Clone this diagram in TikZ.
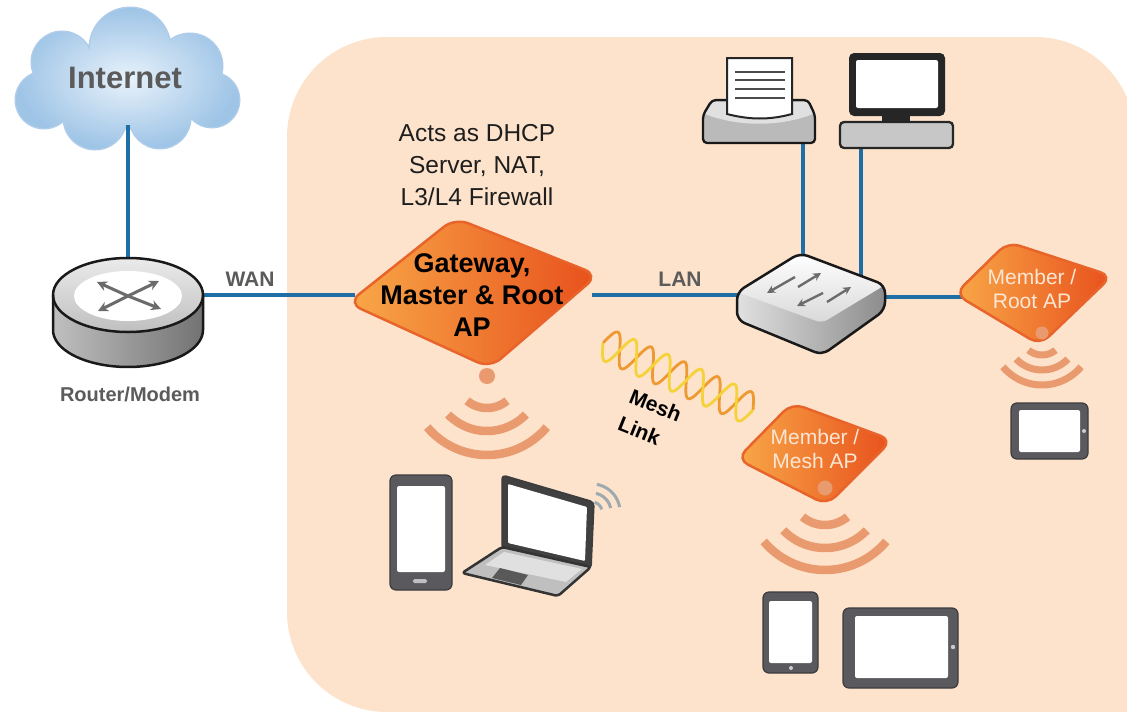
\documentclass[tikz,border=0pt]{standalone}
\usepackage{fontspec}
\setmainfont{Liberation Sans}
\usetikzlibrary{arrows.meta}

\definecolor{peach}{HTML}{FDE3CB}
\definecolor{wire}{HTML}{1D6FA5}
\definecolor{labelgrey}{HTML}{5B5B5B}
\definecolor{textdark}{HTML}{1E1E1E}
\definecolor{aplight}{HTML}{F8A848}
\definecolor{apdark}{HTML}{E8501C}
\definecolor{apedge}{HTML}{E8642A}
\definecolor{aptext}{HTML}{FCE6D4}
\definecolor{wave}{HTML}{E99A6E}
\definecolor{devdark}{HTML}{5A5A5E}
\definecolor{devedge}{HTML}{3C3C3F}
\definecolor{cloudin}{HTML}{E8F2FB}
\definecolor{cloudout}{HTML}{9EC4E6}
\definecolor{cloudrim}{HTML}{AFCDEA}
\definecolor{helixA}{HTML}{F6D23A}
\definecolor{helixB}{HTML}{EE9A33}
\definecolor{signalgrey}{HTML}{9EA9B0}

\newcommand\fsz[2]{\fontsize{#1pt}{#2pt}\selectfont}
% one radio arc below an access point: centre x, centre y, radius, half-angle
\newcommand\radioarc[4]{\draw[waves] plot[domain={270-#4}:{270+#4}, samples=30] ({#1+#3*cos(\x)},{#2-#3*sin(\x)});}

\begin{document}
\begin{tikzpicture}[x=1pt,y=-1pt,
  wire/.style={draw=wire, line width=3.2pt},
  apbody/.style={left color=aplight, right color=apdark, draw=apedge, line width=2.5pt, rounded corners=14pt},
  waves/.style={draw=wave, line width=8.5pt},
  devframe/.style={fill=devdark, draw=devedge, line width=1.2pt, rounded corners=6pt},
  screen/.style={fill=white, rounded corners=2pt},
  greylabel/.style={text=labelgrey, font=\bfseries\fsz{21}{24}},
  aplabel/.style={text=aptext, font=\fsz{21}{24}, align=center},
  outline/.style={draw=black!90, line width=2.5pt, line join=round},
]
\useasboundingbox (0,0) rectangle (1127,712);
\fill[white] (0,0) rectangle (1127,712);

% site area
\fill[peach, rounded corners=100pt] (287,37) rectangle (1135,712);
\fill[peach] (1000,600) rectangle (1127,712);

% ---------- Internet cloud ----------
\path[draw=cloudrim, line width=3pt]
  (62,62) circle[radius=30] (130,48) circle[radius=40] (190,66) circle[radius=32]
  (212,100) circle[radius=27] (44,100) circle[radius=28] (95,118) circle[radius=31]
  (160,118) circle[radius=30];
\shade[inner color=cloudin, outer color=cloudout]
  (62,62) circle[radius=30] (130,48) circle[radius=40] (190,66) circle[radius=32]
  (212,100) circle[radius=27] (44,100) circle[radius=28] (95,118) circle[radius=31]
  (160,118) circle[radius=30] (128,92) ellipse[x radius=85, y radius=38];
\node[font=\bfseries\fsz{31}{36}, text=labelgrey] (inet) at (125,78) {Internet};

% ---------- connection points ----------
\coordinate (inetport) at (128,125);
\coordinate (routertop) at (128,285);
\coordinate (routerright) at (195,295);
\coordinate (gwleft) at (355,295);
\coordinate (gwright) at (592,295);
\coordinate (swleft) at (745,295);
\coordinate (swright) at (878,297);
\coordinate (rootleft) at (962,297);
\coordinate (prnport) at (803,138);
\coordinate (swtopA) at (803,265);
\coordinate (pcport) at (861,144);
\coordinate (swtopB) at (861,285);

% ---------- cables ----------
\draw[wire] (inetport) -- (routertop);
\draw[wire] (routerright) -- (gwleft);
\draw[wire] (gwright) -- (swleft);
\draw[wire] (swright) -- (rootleft);
\draw[wire] (prnport) -- (swtopA);
\draw[wire] (pcport) -- (swtopB);

% ---------- router / modem ----------
\shade[left color=black!25, right color=black!55]
  (53,295) -- plot[domain=180:360, samples=40] ({128+75*cos(\x)},{330-37*sin(\x)}) -- (203,295) -- cycle;
\shade[top color=black!8, bottom color=black!25] (128,295) ellipse[x radius=75, y radius=37];
\fill[white] (128,296) ellipse[x radius=54, y radius=25];
\draw[outline] (53,295) -- (53,330)
  plot[domain=180:360, samples=40] ({128+75*cos(\x)},{330-37*sin(\x)}) -- (203,295);
\draw[outline] (128,295) ellipse[x radius=75, y radius=37];
\begin{scope}[black!58, line width=3pt, -{Stealth[length=10pt,width=10pt]}]
  \draw (128,296) -- (97,282);
  \draw (128,296) -- (159,281);
  \draw (128,296) -- (98,311);
  \draw (128,296) -- (161,309);
\end{scope}
\node[greylabel, font=\bfseries\fsz{20}{24}] (routerlabel) at (130,394) {Router/Modem};
\node[greylabel] (wanlabel) at (250,279) {WAN};
\node[greylabel] (lanlabel) at (680,279) {LAN};

% ---------- switch ----------
\shade[left color=black!12, right color=black!45, rounded corners=8pt]
  (737,292) -- (800,253) -- (885,285) -- (885,310) -- (822,355) -- (737,320) -- cycle;
\shade[top color=white, bottom color=black!15, rounded corners=6pt]
  (737,292) -- (800,253) -- (885,285) -- (822,323) -- cycle;
\draw[outline, rounded corners=8pt]
  (737,292) -- (800,253) -- (885,285) -- (885,310) -- (822,355) -- (737,320) -- cycle;
\begin{scope}[black!58, line width=2.4pt, -{Stealth[length=8pt,width=8pt]}]
  \draw (795,277) -- (767,293);
  \draw (798,287) -- (821,273);
  \draw (823,293) -- (797,306);
  \draw (827,302) -- (851,287);
\end{scope}

% ---------- printer ----------
\fill[black!27, rounded corners=4pt] (703,143) -- (703,115) -- (712,100) -- (808,100) -- (815,115) -- (815,143) -- cycle;
\fill[black!12] (705,114) -- (713,102) -- (807,102) -- (813,114) .. controls (780,127) and (738,127) .. (705,114) -- cycle;
\draw[outline, line width=2.3pt, rounded corners=4pt] (703,143) -- (703,115) -- (712,100) -- (808,100) -- (815,115) -- (815,143) -- cycle;
\filldraw[fill=white, draw=black!85, line width=2pt] (727,58) -- (792,58) -- (792,114) .. controls (770,120) and (750,120) .. (727,114) -- cycle;
\begin{scope}[black!70, line width=2pt]
  \draw (735,72) -- (785,72);
  \draw (735,80) -- (785,80);
  \draw (735,89) -- (785,89);
  \draw (735,98) -- (785,98);
\end{scope}

% ---------- desktop computer ----------
\fill[black!85] (882,112) rectangle (910,125);
\filldraw[fill=black!22, draw=black!85, line width=2.3pt, rounded corners=4pt] (840,122) rectangle (953,148);
\fill[black!85, rounded corners=5pt] (849,53) rectangle (945,116);
\fill[white, rounded corners=2pt] (856,60) rectangle (938,108);

% ---------- mesh link ----------
\draw[helixB, line width=2.8pt] plot[domain=0:1, samples=260]
  ({603+150*\x-0.408*16*sin(\x*360*4.5+180)},{343+67*\x+0.913*16*sin(\x*360*4.5+180)});
\draw[helixA, line width=2.8pt] plot[domain=0:1, samples=260]
  ({603+150*\x-0.408*16*sin(\x*360*4.5)},{343+67*\x+0.913*16*sin(\x*360*4.5)});
\node[rotate=-22, align=left, text=black, font=\bfseries\fsz{21}{30}] (meshlabel) at (650,419) {Mesh\\Link};

% ---------- gateway / master / root AP ----------
\node[font=\fsz{24.5}{32}, align=center, text=textdark] (gwnote) at (477,165) {Acts as DHCP\\Server, NAT,\\L3/L4 Firewall};
\shadedraw[apbody] (348,303) -- (455,218) -- (598,275) -- (490,368) -- cycle;
\node[font=\bfseries\fsz{27}{32}, align=center, text=black] (gw) at (472,295) {Gateway,\\Master \& Root\\AP};
\fill[wave] (487,376) circle[radius=8];
\radioarc{487}{377}{31}{40}
\radioarc{487}{377}{54}{46}
\radioarc{487}{377}{78}{50}

% ---------- member / root AP ----------
\shadedraw[apbody, rounded corners=12pt] (955,294) -- (1008,242) -- (1112,276) -- (1040,345) -- cycle;
\node[aplabel] (rootap) at (1032,289) {Member /\\Root AP};
\fill[wave] (1042,333) circle[radius=6.5];
\begin{scope}[waves/.append style={line width=7pt}]
\radioarc{1042}{334}{21}{40}
\radioarc{1042}{334}{36}{46}
\radioarc{1042}{334}{51}{50}
\end{scope}

% ---------- member / mesh AP ----------
\shadedraw[apbody, rounded corners=12pt] (737,459) -- (792,403) -- (892,440) -- (827,505) -- cycle;
\node[aplabel] (meshap) at (815,449) {Member /\\Mesh AP};
\fill[wave] (825,488) circle[radius=7.5];
\radioarc{825}{490}{35}{40}
\radioarc{825}{490}{58}{46}
\radioarc{825}{490}{80}{50}

% ---------- client devices ----------
% phone at the gateway
\filldraw[devframe] (390,475) rectangle (452,590);
\fill[screen] (397,486) rectangle (445,572);
\fill[black!25, rounded corners=1.5pt] (413,579) rectangle (427,583);
% laptop
\filldraw[fill=black!75, draw=devedge, line width=1.5pt, rounded corners=4pt] (502,475) -- (594,502) -- (591,569) -- (502,549) -- cycle;
\fill[white, rounded corners=1pt] (508,484) -- (587,507) -- (585,561) -- (508,543) -- cycle;
\filldraw[fill=black!25, draw=black!80, line width=2.5pt, line join=round, rounded corners=3pt] (502,547) -- (591,567) -- (558,596) -- (462,573) -- cycle;
\fill[black!12] (504,552) -- (582,569) -- (566,582) -- (485,565) -- cycle;
\fill[black!65] (500,568) -- (528,575) -- (521,585) -- (492,578) -- cycle;
\begin{scope}[signalgrey, line width=3pt]
  \draw plot[domain=15:75, samples=20] ({592+10*cos(\x)},{512-10*sin(\x)});
  \draw plot[domain=12:78, samples=20] ({592+19*cos(\x)},{512-19*sin(\x)});
  \draw plot[domain=10:80, samples=20] ({592+28*cos(\x)},{512-28*sin(\x)});
\end{scope}
% phone at the mesh AP
\filldraw[devframe] (763,592) rectangle (818,673);
\fill[screen] (769,601) rectangle (812,663);
\fill[black!20] (791,668) circle[radius=2];
% tablet at the mesh AP
\filldraw[devframe] (843,608) rectangle (958,688);
\fill[screen] (855,616) rectangle (948,678);
\fill[black!20] (953,647) circle[radius=2.2];
% tablet at the root AP
\filldraw[devframe] (1011,403) rectangle (1088,459);
\fill[screen] (1019,410) rectangle (1080,452);
\fill[black!20] (1084,431) circle[radius=2];
\end{tikzpicture}
\end{document}
